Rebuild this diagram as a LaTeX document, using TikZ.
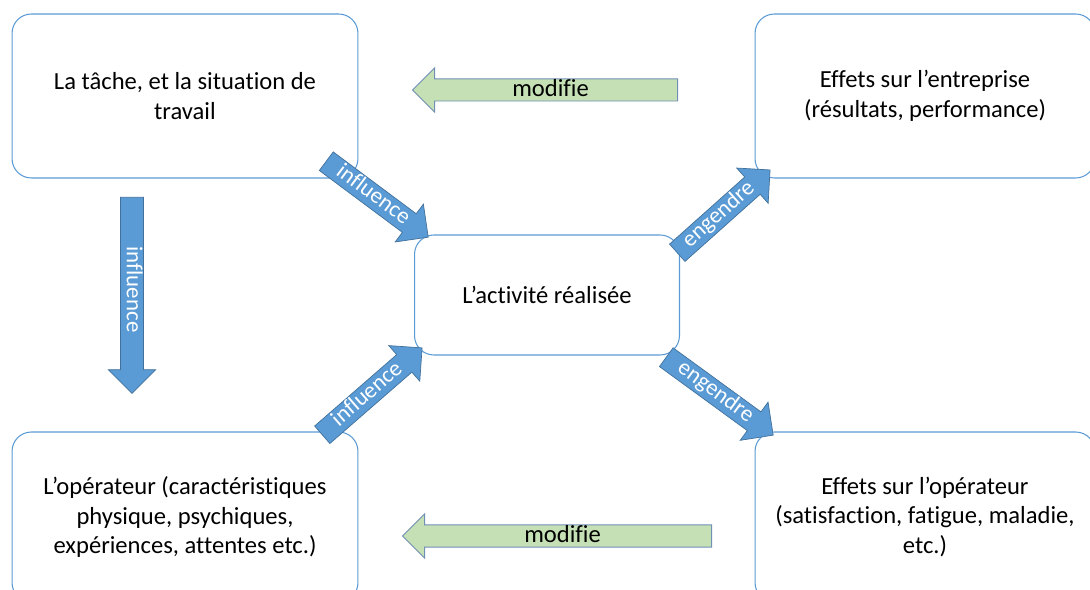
\documentclass[tikz,border=0pt]{standalone}
\usepackage{fontspec}
\setmainfont{Carlito}[Ligatures=CommonOff]
\usetikzlibrary{shapes.arrows,calc}
\definecolor{boxblue}{HTML}{5B9BD5}
\definecolor{arrowblue}{HTML}{5B9BD5}
\definecolor{arrowline}{HTML}{41719C}
\definecolor{modgreen}{HTML}{C5E0B4}
\definecolor{modline}{HTML}{6F8FB5}

% block arrow from #2 (tail) to #3 (tip)
\newcommand{\blockarrow}[4]{%
  \path let \p1=($(#3)-(#2)$), \n1={atan2(\y1,\x1)}, \n2={veclen(\x1,\y1)} in
    node[anchor=tail,rotate=\n1,minimum height=\n2,#1] at (#2) {#4};}

\tikzset{
  box/.style={draw=boxblue,line width=.6pt,rounded corners=11pt,fill=white,align=center,
    font=\fontsize{14}{17}\selectfont},
  inflarrow/.style={single arrow,fill=arrowblue,draw=arrowline,line width=.4pt,text=white,
    font=\fontsize{13}{15}\selectfont,text height=9pt,text depth=3.2pt,
    inner ysep=.3pt,inner xsep=2pt,single arrow head extend=.24cm,single arrow tip angle=90},
  modarrow/.style={single arrow,fill=modgreen,draw=modline,line width=.5pt,
    font=\fontsize{14}{15}\selectfont,text height=9.5pt,text depth=2pt,
    inner ysep=.3pt,inner xsep=2pt,single arrow head extend=.22cm,single arrow tip angle=90,
    shape border rotate=180,rotate=180}
}

\begin{document}
\begin{tikzpicture}[x=.02cm,y=-.02cm]
\useasboundingbox (0,0) rectangle (1090,590);
\clip (0,0) rectangle (1090,590);

% boxes
\node[box,minimum width=6.92cm,minimum height=3.28cm] (tache) at (185,96)
  {La tâche, et la situation de\\travail};
\node[box,minimum width=6.8cm,minimum height=3.28cm] (entreprise) at (925,96)
  {Effets sur l’entreprise\\(résultats, performance)};
\node[box,minimum width=5.3cm,minimum height=2.4cm] (activite) at (547,295)
  {L’activité réalisée};
\node[box,minimum width=6.92cm,minimum height=3.4cm] (operateur) at (185,517)
  {L’opérateur (caractéristiques\\physique, psychiques,\\expériences, attentes etc.)};
\node[box,minimum width=6.8cm,minimum height=3.4cm] (effop) at (925,517)
  {Effets sur l’opérateur\\(satisfaction, fatigue, maladie,\\etc.)};

% arrow ends
\coordinate (t1) at (132,197);  \coordinate (h1) at (132,393);
\coordinate (t2) at (326,161);  \coordinate (h2) at (428,237);
\coordinate (t3) at (322,435);  \coordinate (h3) at (422,348);
\coordinate (t4) at (677,253);  \coordinate (h4) at (770,170);
\coordinate (t5) at (666,357);  \coordinate (h5) at (773,435);
\coordinate (t6) at (678,90);   \coordinate (h6) at (413,90);
\coordinate (t7) at (712,536);  \coordinate (h7) at (403,536);

\blockarrow{inflarrow}{t1}{h1}{influence}
\blockarrow{inflarrow}{t2}{h2}{influence}
\blockarrow{inflarrow}{t3}{h3}{influence}
\blockarrow{inflarrow}{t4}{h4}{engendre}
\blockarrow{inflarrow}{t5}{h5}{engendre}
\blockarrow{modarrow}{t6}{h6}{modifie}
\blockarrow{modarrow}{t7}{h7}{modifie}
\end{tikzpicture}
\end{document}
